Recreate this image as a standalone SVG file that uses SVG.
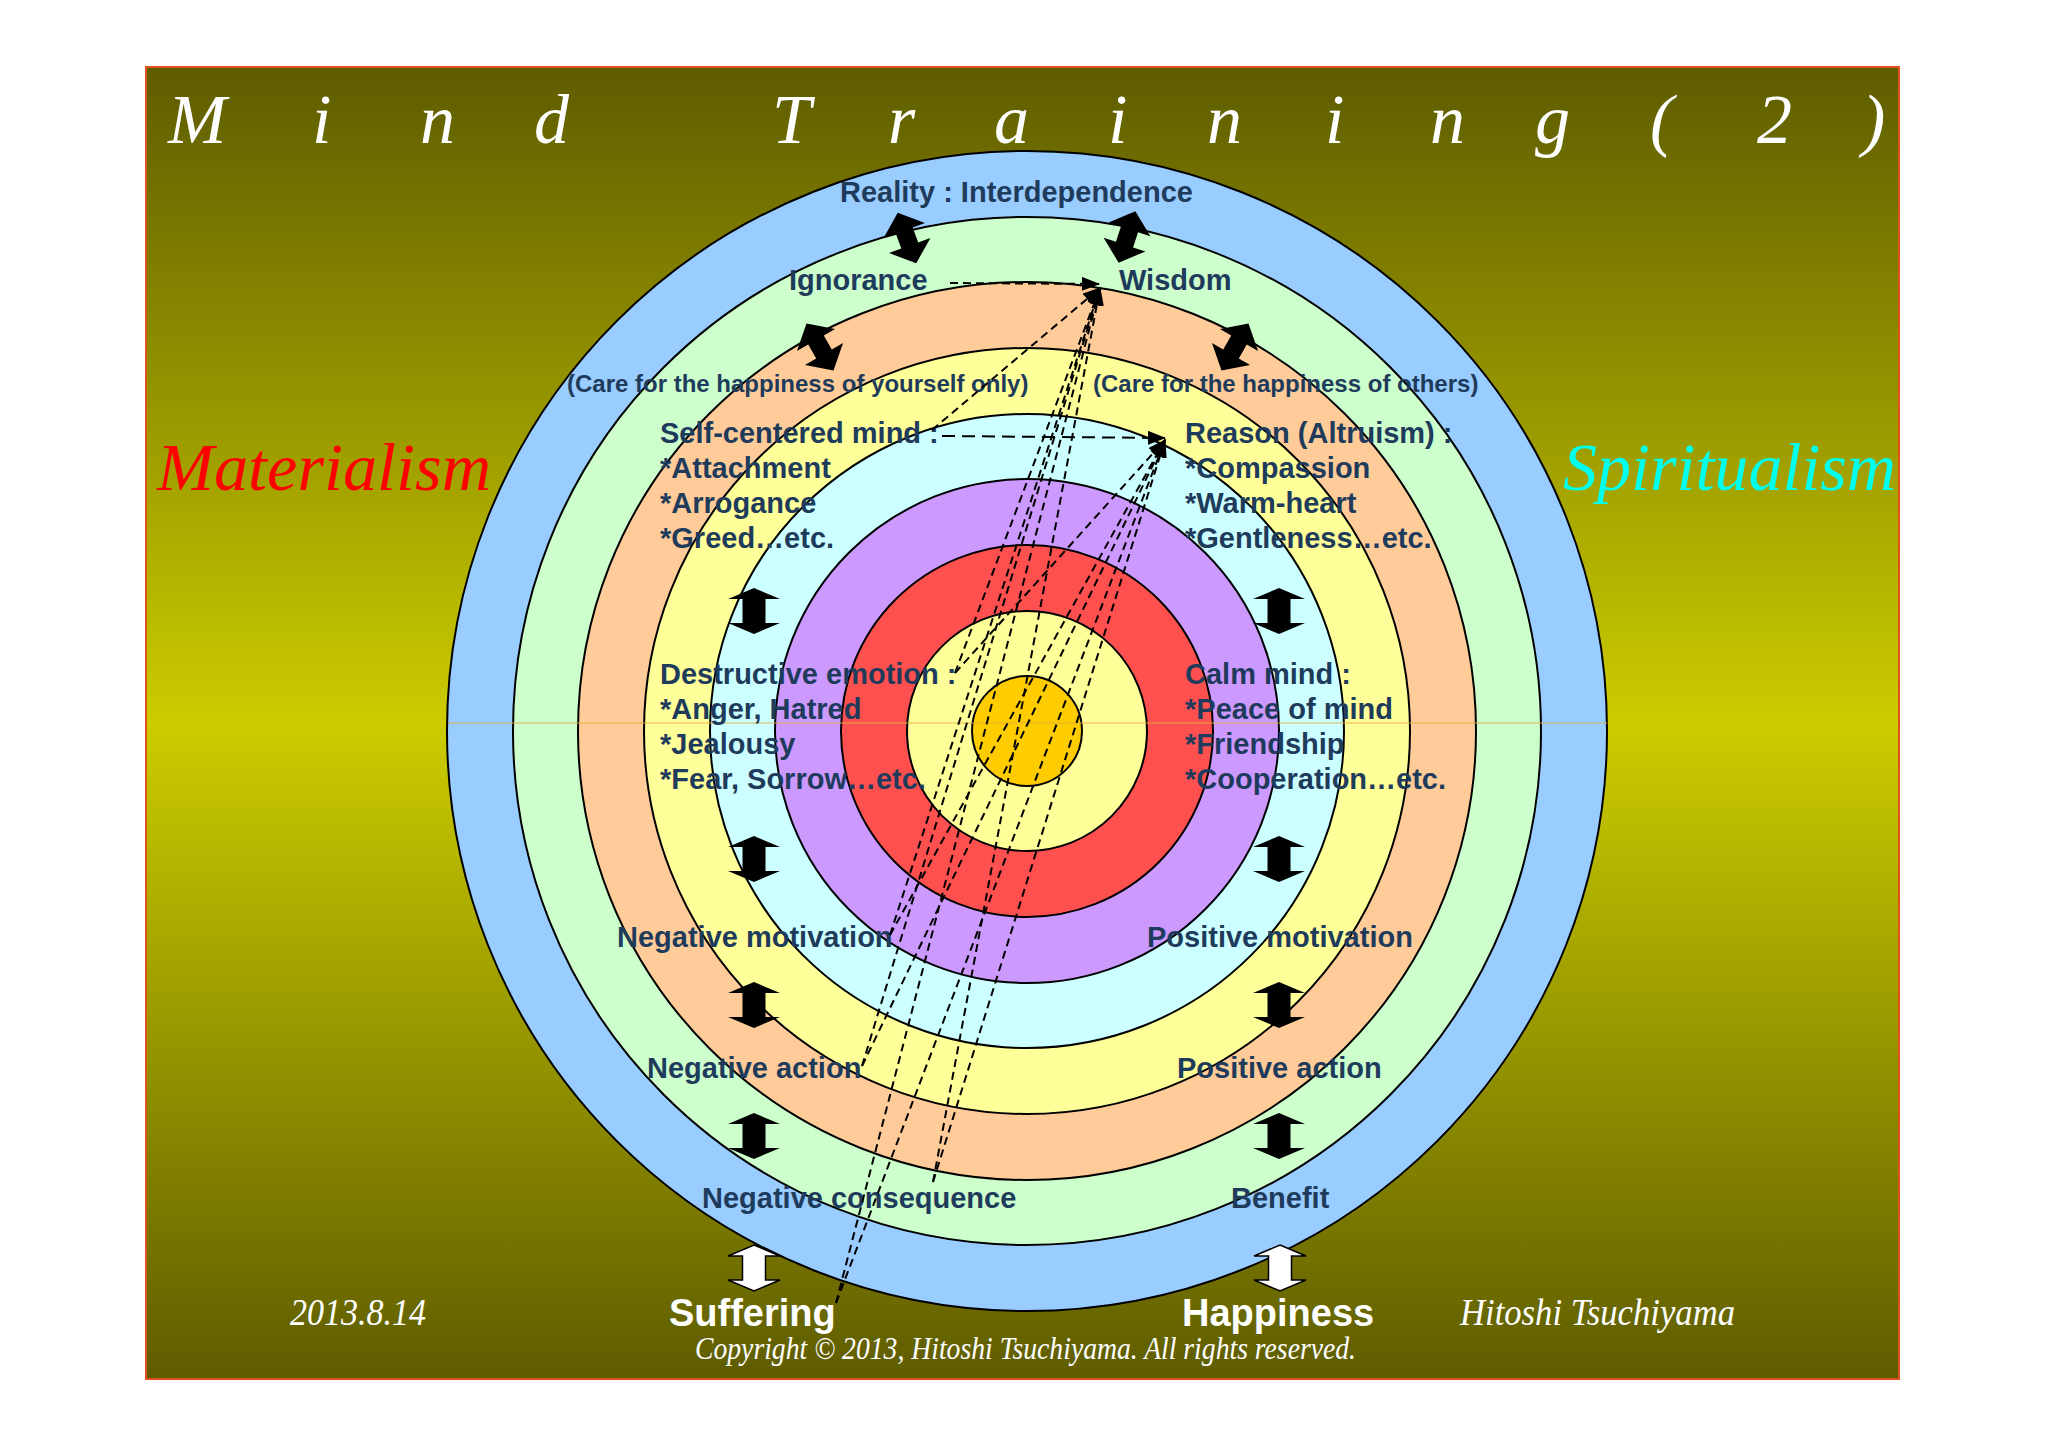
<svg xmlns="http://www.w3.org/2000/svg" width="2048" height="1447" viewBox="0 0 2048 1447">
<defs>
<linearGradient id="bg" x1="0" y1="0" x2="0" y2="1">
<stop offset="0" stop-color="#5e5c00"/>
<stop offset="0.5" stop-color="#cccc00"/>
<stop offset="1" stop-color="#5e5c00"/>
</linearGradient>
<marker id="ah" viewBox="0 0 18 14" refX="17" refY="7" markerWidth="18" markerHeight="14" markerUnits="userSpaceOnUse" orient="auto">
<path d="M0,0 L18,7 L0,14 z" fill="#000"/>
</marker>
<path id="dblV" d="M0,-23 L26,-12 L11.5,-12 L11.5,12 L26,12 L0,23 L-26,12 L-11.5,12 L-11.5,-12 L-26,-12 Z"/>
<path id="dblD" d="M0,-27 L22,-8 L9,-8 L9,8 L22,8 L0,27 L-22,8 L-9,8 L-9,-8 L-22,-8 Z"/>
</defs>
<style>
.lbl{font-family:"Liberation Sans",Arial,sans-serif;font-weight:bold;font-size:29px;fill:#1f3b5c}
.care{font-size:24px}
.ring{stroke:#000;stroke-width:2}
.dash{fill:none;stroke:#000;stroke-width:2;stroke-dasharray:8 5}
.dashL{fill:none;stroke:#000;stroke-width:2;stroke-dasharray:13 7}
.script{font-family:"Liberation Serif","Times New Roman",serif;font-style:italic}
.wb{font-family:"Liberation Sans",Arial,sans-serif;font-weight:bold;font-size:38px;fill:#fff}
.blk{fill:#000}
.wht{fill:#fff;stroke:#000;stroke-width:1.5}
</style>
<rect width="2048" height="1447" fill="#fff"/>
<rect x="146" y="67" width="1753" height="1312" fill="url(#bg)" stroke="#e3501c" stroke-width="2"/>

<g id="title">
<text class="script" font-size="70" fill="#fff" x="168 312 420 534 650 772 888 994 1108 1207 1325 1430 1535 1650 1757 1862" y="143">Mind Training(2)</text>
</g>
<g id="materialism"><text class="script" font-size="68" fill="#ff0000" x="157" y="490" textLength="334" lengthAdjust="spacingAndGlyphs">Materialism</text></g>
<g id="spiritualism"><text class="script" font-size="68" fill="#00ffee" x="1563" y="490" textLength="333" lengthAdjust="spacingAndGlyphs">Spiritualism</text></g>

<g id="rings">
<circle class="ring" cx="1027" cy="731" r="580" fill="#99ccff"/>
<circle class="ring" cx="1027" cy="731" r="514" fill="#ccffcc"/>
<circle class="ring" cx="1027" cy="731" r="449" fill="#ffcc99"/>
<circle class="ring" cx="1027" cy="731" r="383" fill="#ffff99"/>
<circle class="ring" cx="1027" cy="731" r="317" fill="#ccffff"/>
<circle class="ring" cx="1027" cy="731" r="252" fill="#cc99ff"/>
<circle class="ring" cx="1027" cy="731" r="186" fill="#ff5050"/>
<circle class="ring" cx="1027" cy="731" r="120" fill="#ffff99"/>
<circle class="ring" cx="1027" cy="731" r="55" fill="#ffcc00"/>
<line x1="448" y1="723" x2="1607" y2="723" stroke="#e0b040" stroke-width="1.5" opacity="0.6"/>
</g>

<g id="n-reality"><text class="lbl" x="840" y="202">Reality : Interdependence</text></g>
<g id="n-ignorance"><text class="lbl" x="789" y="290">Ignorance</text></g>
<g id="n-wisdom"><text class="lbl" x="1119" y="290">Wisdom</text></g>
<g id="n-care-self"><text class="lbl care" x="567" y="392">(Care for the happiness of yourself only)</text></g>
<g id="n-care-others"><text class="lbl care" x="1093" y="392">(Care for the happiness of others)</text></g>
<g id="n-selfcentered">
<text class="lbl" x="660" y="443">Self-centered mind :</text>
<text class="lbl" x="660" y="478">*Attachment</text>
<text class="lbl" x="660" y="513">*Arrogance</text>
<text class="lbl" x="660" y="548">*Greed…etc.</text>
</g>
<g id="n-reason">
<text class="lbl" x="1185" y="443">Reason (Altruism) :</text>
<text class="lbl" x="1185" y="478">*Compassion</text>
<text class="lbl" x="1185" y="513">*Warm-heart</text>
<text class="lbl" x="1185" y="548">*Gentleness…etc.</text>
</g>
<g id="n-destructive">
<text class="lbl" x="660" y="684">Destructive emotion :</text>
<text class="lbl" x="660" y="719">*Anger, Hatred</text>
<text class="lbl" x="660" y="754">*Jealousy</text>
<text class="lbl" x="660" y="789">*Fear, Sorrow…etc.</text>
</g>
<g id="n-calm">
<text class="lbl" x="1185" y="684">Calm mind :</text>
<text class="lbl" x="1185" y="719">*Peace of mind</text>
<text class="lbl" x="1185" y="754">*Friendship</text>
<text class="lbl" x="1185" y="789">*Cooperation…etc.</text>
</g>
<g id="n-negmot"><text class="lbl" x="617" y="947">Negative motivation</text></g>
<g id="n-posmot"><text class="lbl" x="1147" y="947">Positive motivation</text></g>
<g id="n-negact"><text class="lbl" x="647" y="1078">Negative action</text></g>
<g id="n-posact"><text class="lbl" x="1177" y="1078">Positive action</text></g>
<g id="n-negcon"><text class="lbl" x="702" y="1208">Negative consequence</text></g>
<g id="n-benefit"><text class="lbl" x="1231" y="1208">Benefit</text></g>
<g id="n-suffering"><text class="wb" x="669" y="1326">Suffering</text></g>
<g id="n-happiness"><text class="wb" x="1182" y="1326">Happiness</text></g>
<g id="date"><text class="script" font-size="38" fill="#fff" x="290" y="1325" textLength="136" lengthAdjust="spacingAndGlyphs">2013.8.14</text></g>
<g id="author"><text class="script" font-size="38" fill="#fff" x="1460" y="1325" textLength="275" lengthAdjust="spacingAndGlyphs">Hitoshi Tsuchiyama</text></g>
<g id="copyright"><text class="script" font-size="32" fill="#fff" x="695" y="1359" textLength="661" lengthAdjust="spacingAndGlyphs">Copyright © 2013, Hitoshi Tsuchiyama. All rights reserved.</text></g>

<g id="arrows-top">
<use href="#dblD" class="blk" transform="translate(907,238) rotate(-20)"/>
<use href="#dblD" class="blk" transform="translate(1127,237) rotate(18)"/>
<use href="#dblD" class="blk" transform="translate(820,347) rotate(-30)"/>
<use href="#dblD" class="blk" transform="translate(1235,347) rotate(30)"/>
</g>
<g id="arrows-vertical">
<use href="#dblV" class="blk" x="754" y="611"/>
<use href="#dblV" class="blk" x="1279" y="611"/>
<use href="#dblV" class="blk" x="754" y="859"/>
<use href="#dblV" class="blk" x="1279" y="859"/>
<use href="#dblV" class="blk" x="754" y="1005"/>
<use href="#dblV" class="blk" x="1279" y="1005"/>
<use href="#dblV" class="blk" x="754" y="1136"/>
<use href="#dblV" class="blk" x="1279" y="1136"/>
<use href="#dblV" class="wht" x="754" y="1268"/>
<use href="#dblV" class="wht" x="1280" y="1268"/>
</g>

<g id="connectors">
<line class="dash" x1="950" y1="283" x2="1099" y2="284" marker-end="url(#ah)"/>
<line class="dashL" x1="942" y1="436" x2="1165" y2="438" marker-end="url(#ah)"/>
<line class="dash" x1="932" y1="430" x2="1100" y2="288" marker-end="url(#ah)"/>
<line class="dash" x1="955" y1="673" x2="1100" y2="288" marker-end="url(#ah)"/>
<line class="dash" x1="955" y1="673" x2="1165" y2="440" marker-end="url(#ah)"/>
<line class="dash" x1="890" y1="935" x2="1100" y2="288" marker-end="url(#ah)"/>
<line class="dash" x1="890" y1="935" x2="1165" y2="440" marker-end="url(#ah)"/>
<line class="dash" x1="862" y1="1066" x2="1100" y2="288" marker-end="url(#ah)"/>
<line class="dash" x1="862" y1="1066" x2="1165" y2="440" marker-end="url(#ah)"/>
<line class="dash" x1="933" y1="1182" x2="1100" y2="288" marker-end="url(#ah)"/>
<line class="dash" x1="933" y1="1182" x2="1165" y2="440" marker-end="url(#ah)"/>
<line class="dash" x1="836" y1="1303" x2="1100" y2="288" marker-end="url(#ah)"/>
<line class="dash" x1="836" y1="1303" x2="1165" y2="440" marker-end="url(#ah)"/>
</g>
</svg>
